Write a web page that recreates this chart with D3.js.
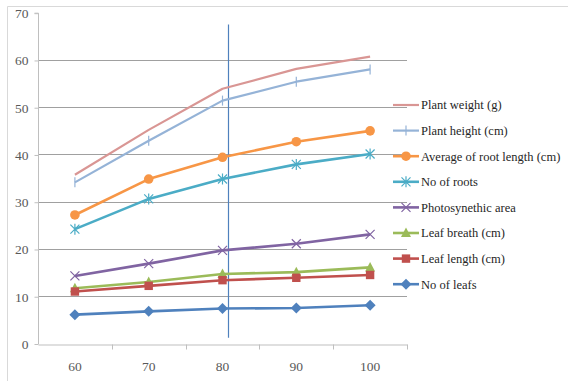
<!DOCTYPE html>
<html>
<head>
<meta charset="utf-8">
<script src="https://cdn.jsdelivr.net/npm/d3@7"></script>
<style>
  body { margin: 0; background: #fff; }
</style>
</head>
<body>
<div id="chart"></div>
<script>
// chart values
const categories = ['60', '70', '80', '90', '100'];
const seriesNames = [
  'Plant weight (g)', 'Plant height (cm)', 'Average of root length (cm)', 'No of roots',
  'Photosynethic area', 'Leaf breath (cm)', 'Leaf length (cm)', 'No of leafs'
];
const plantWeight = [35.7, 45.2, 53.9, 58.1, 60.7];
const plantHeight = [34.1, 42.9, 51.4, 55.4, 58.0];
const rootLength = [27.2, 34.8, 39.4, 42.7, 45.0];
const noOfRoots = [24.2, 30.6, 34.8, 37.9, 40.1];
const photoArea = [14.3, 16.9, 19.7, 21.1, 23.1];
const leafBreath = [11.7, 13.0, 14.7, 15.1, 16.1];
const leafLength = [11.0, 12.2, 13.4, 13.9, 14.5];
const noOfLeafs = [6.1, 6.8, 7.4, 7.5, 8.1];
const yTicks = [0, 10, 20, 30, 40, 50, 60, 70];
const markerAt = 80.75; // the vertical guide drawn just right of 80
const markerSpan = [1.2, 67.5];

const seriesValues = [plantWeight, plantHeight, rootLength, noOfRoots,
  photoArea, leafBreath, leafLength, noOfLeafs];
const colors = ['#D99694', '#95B3D7', '#F79646', '#4BACC6',
  '#8064A2', '#9BBB59', '#C0504D', '#4F81BD'];
const markers = ['none', 'plus', 'circle', 'star', 'cross', 'triangle', 'square', 'diamond'];

const FONT = '"Liberation Serif", "Times New Roman", Times, serif';
const width = 568, height = 381;
const plot = { left: 38, right: 407, top: 12.7, bottom: 343.5 };

const svg = d3.select('#chart').append('svg')
  .attr('width', width)
  .attr('height', height)
  .attr('font-family', FONT);

// outer frame (only left/top edges visible)
svg.append('path')
  .attr('d', `M7.5,${height} V6.5 H${width}`)
  .attr('fill', 'none')
  .attr('stroke', '#D9D9D9');

const x = d3.scaleBand().domain(categories).range([plot.left, plot.right]).padding(0);
const cx = (c) => x(c) + x.bandwidth() / 2;
const y = d3.scaleLinear().domain([0, 70]).range([plot.bottom, plot.top]);
const xLin = d3.scaleLinear().domain([60, 100]).range([cx('60'), cx('100')]);

// gridlines
svg.append('g').selectAll('line')
  .data(yTicks.filter((t) => t > 0 && t < 70))
  .enter().append('line')
  .attr('x1', plot.left).attr('x2', plot.right)
  .attr('y1', (d) => Math.round(y(d)) + 0.5).attr('y2', (d) => Math.round(y(d)) + 0.5)
  .attr('stroke', '#A0A0A0');

// y axis
const yAxis = svg.append('g')
  .attr('transform', `translate(${plot.left + 0.5},0.5)`)
  .call(d3.axisLeft(y).tickValues(yTicks).tickSize(4).tickPadding(6))
  .attr('font-family', FONT);
yAxis.select('.domain').attr('stroke', '#BFBFBF').attr('d', `M-4,${y(70)}H0V${y(0)}`);
yAxis.selectAll('.tick line').attr('stroke', '#BFBFBF');
yAxis.selectAll('text').attr('font-size', 13.5).attr('fill', '#595959');

// x axis
const xAxis = svg.append('g')
  .attr('transform', `translate(0,${Math.round(y(0)) + 0.5})`)
  .call(d3.axisBottom(x).tickSize(0).tickPadding(17))
  .attr('font-family', FONT);
xAxis.select('.domain').attr('stroke', '#BFBFBF');
xAxis.selectAll('text').attr('font-size', 13.5).attr('fill', '#595959');
xAxis.selectAll('.bound')
  .data(categories)
  .enter().append('line')
  .attr('class', 'bound')
  .attr('x1', (d) => Math.round(x(d) + x.bandwidth()) + 0.5)
  .attr('x2', (d) => Math.round(x(d) + x.bandwidth()) + 0.5)
  .attr('y1', 0).attr('y2', 5)
  .attr('stroke', '#BFBFBF');

// vertical guide line
svg.append('line')
  .attr('x1', Math.round(xLin(markerAt)) + 0.5).attr('x2', Math.round(xLin(markerAt)) + 0.5)
  .attr('y1', y(markerSpan[1])).attr('y2', y(markerSpan[0]))
  .attr('stroke', '#4F81BD')
  .attr('stroke-width', 1.2);

function drawMarker(g, type, color) {
  if (type === 'circle') {
    g.append('circle').attr('r', 4.8).attr('fill', color);
  } else if (type === 'square') {
    g.append('rect').attr('x', -4.2).attr('y', -4.2).attr('width', 8.4).attr('height', 8.4).attr('fill', color);
  } else if (type === 'diamond') {
    g.append('path').attr('d', 'M0,-5.5L5.5,0L0,5.5L-5.5,0Z').attr('fill', color);
  } else if (type === 'triangle') {
    g.append('path').attr('d', 'M0,-5.5L5,4L-5,4Z').attr('fill', color);
  } else if (type === 'cross') {
    g.append('path').attr('d', 'M-4.5,-4.5L4.5,4.5M-4.5,4.5L4.5,-4.5')
      .attr('stroke', color).attr('stroke-width', 1.2);
  } else if (type === 'star') {
    g.append('path').attr('d', 'M-4.5,-4.5L4.5,4.5M-4.5,4.5L4.5,-4.5M0,-5.5V5.5')
      .attr('stroke', color).attr('stroke-width', 1.2);
  } else if (type === 'plus') {
    g.append('path').attr('d', 'M0,-5V5').attr('stroke', color).attr('stroke-width', 1.2);
  }
}

const line = d3.line().x((d) => cx(d.c)).y((d) => y(d.v));

seriesValues.forEach((vals, i) => {
  const pts = categories.map((c, j) => ({ c, v: vals[j] }));
  const g = svg.append('g');
  g.append('path')
    .datum(pts)
    .attr('d', line)
    .attr('fill', 'none')
    .attr('stroke', colors[i])
    .attr('stroke-width', i < 2 ? 2.2 : 2.6)
    .attr('stroke-linejoin', 'round');
  pts.forEach((p) => {
    const m = g.append('g').attr('transform', `translate(${cx(p.c)},${y(p.v)})`);
    drawMarker(m, markers[i], colors[i]);
  });
});

// legend
const legend = svg.append('g').attr('transform', 'translate(393,105)');
seriesNames.forEach((name, i) => {
  const row = legend.append('g').attr('transform', `translate(0,${i * 25.6})`);
  row.append('line')
    .attr('x1', 0).attr('x2', 26).attr('y1', 0).attr('y2', 0)
    .attr('stroke', colors[i]).attr('stroke-width', i < 2 ? 2.2 : 2.6);
  const m = row.append('g').attr('transform', 'translate(13,0)');
  drawMarker(m, markers[i], colors[i]);
  row.append('text')
    .attr('x', 28).attr('y', 0).attr('dy', '0.35em')
    .attr('font-size', 12.5)
    .attr('fill', '#262626')
    .text(name);
});
</script>
</body>
</html>
